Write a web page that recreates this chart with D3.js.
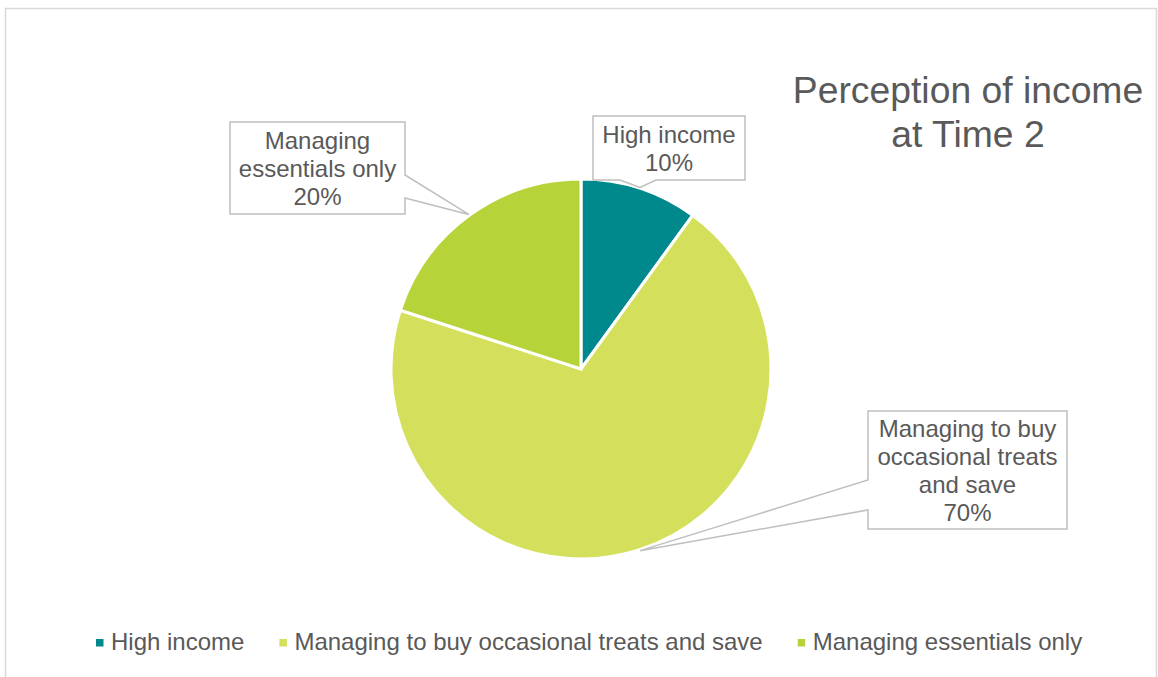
<!DOCTYPE html>
<html>
<head>
<meta charset="utf-8">
<script src="https://cdn.jsdelivr.net/npm/d3@7"></script>
<style>
  html, body { margin: 0; padding: 0; background: #ffffff; }
  svg { display: block; font-family: "Liberation Sans", Arial, sans-serif; }
</style>
</head>
<body>
<svg id="chart" width="1158" height="677"></svg>
<script>
// ---- data ----
const categories = ["High income", "Managing to buy occasional treats and save", "Managing essentials only"];
const values = [10, 70, 20];
const labelLines = [["High income"], ["Managing to buy", "occasional treats", "and save"], ["Managing", "essentials only"]];
const colors = ["#00898D", "#D4E05B", "#B6D43A"];
const titleLines = ["Perception of income", "at Time 2"];

// ---- layout ----
const W = 1158, H = 677;
const cx = 581, cy = 369, R = 190;
const textColor = "#595959";
const boxStroke = "#BFBFBF";
// callout boxes: x, y, w, h, side of the pointer, pointer base (start,end) along that side
const callouts = [
  { x: 593, y: 116, w: 152, h: 64, side: "bottom", b0: 620, b1: 656 },
  { x: 868, y: 411, w: 199, h: 118, side: "left", b0: 480, b1: 510 },
  { x: 230, y: 122, w: 175, h: 92, side: "right", b0: 175, b1: 198 }
];

const svg = d3.select("#chart");

// outer frame
svg.append("rect")
  .attr("x", 5.5).attr("y", 8.5)
  .attr("width", 1151).attr("height", 700)
  .attr("fill", "none").attr("stroke", "#D9D9D9").attr("stroke-width", 1.5);

const pie = d3.pie().sort(null).value(d => d)(values);
const arc = d3.arc().innerRadius(0).outerRadius(R);

const g = svg.append("g").attr("transform", `translate(${cx},${cy})`);
g.selectAll("path.slice")
  .data(pie)
  .join("path")
  .attr("class", "slice")
  .attr("d", arc)
  .attr("fill", (d, i) => colors[i])
  .attr("stroke", "#ffffff")
  .attr("stroke-width", 3)
  .attr("stroke-linejoin", "miter");

// callouts
pie.forEach((d, i) => {
  const c = callouts[i];
  const mid = (d.startAngle + d.endAngle) / 2;
  const tx = cx + (R + 1) * Math.sin(mid);
  const ty = cy - (R + 1) * Math.cos(mid);
  const x0 = c.x, y0 = c.y, x1 = c.x + c.w, y1 = c.y + c.h;
  let p;
  if (c.side === "bottom") {
    p = `M${x0},${y0}H${x1}V${y1}H${c.b1}L${tx},${ty}L${c.b0},${y1}H${x0}Z`;
  } else if (c.side === "left") {
    p = `M${x0},${y0}H${x1}V${y1}H${x0}V${c.b1}L${tx},${ty}L${x0},${c.b0}Z`;
  } else {
    p = `M${x0},${y0}H${x1}V${c.b0}L${tx},${ty}L${x1},${c.b1}V${y1}H${x0}Z`;
  }
  svg.append("path")
    .attr("d", p)
    .attr("fill", "#ffffff")
    .attr("stroke", boxStroke)
    .attr("stroke-width", 1.5)
    .attr("stroke-linejoin", "miter");

  const lines = labelLines[i].concat([d3.format(".0%")(d.data / d3.sum(values))]);
  const lh = 28;
  const ccx = c.x + c.w / 2, ccy = c.y + c.h / 2;
  const firstBase = ccy - (lines.length - 1) * lh / 2 + 8.5;
  const t = svg.append("text")
    .attr("text-anchor", "middle")
    .attr("fill", textColor)
    .attr("font-size", 24);
  lines.forEach((ln, k) => {
    t.append("tspan").attr("x", ccx).attr("y", firstBase + k * lh).text(ln);
  });
});

// title
const title = svg.append("text")
  .attr("text-anchor", "middle")
  .attr("fill", textColor)
  .attr("font-size", 37.3);
titleLines.forEach((ln, k) => {
  title.append("tspan").attr("x", 968).attr("y", 103 + k * 44).text(ln);
});

// legend
const legend = svg.append("g");
const items = legend.selectAll("g.item")
  .data(categories)
  .join("g")
  .attr("class", "item");
items.append("rect")
  .attr("width", 7.5).attr("height", 7.5)
  .attr("y", 639)
  .attr("fill", (d, i) => colors[i]);
items.append("text")
  .attr("y", 650)
  .attr("fill", textColor)
  .attr("font-size", 24)
  .text(d => d);
let xpos = 0;
const gap = 35;
items.each(function (d, i) {
  const sel = d3.select(this);
  const tw = sel.select("text").node().getComputedTextLength();
  sel.select("rect").attr("x", xpos);
  sel.select("text").attr("x", xpos + 15);
  xpos += 15 + tw + gap;
});
const startX = 96;
legend.attr("transform", `translate(${startX},0)`);
</script>
</body>
</html>
